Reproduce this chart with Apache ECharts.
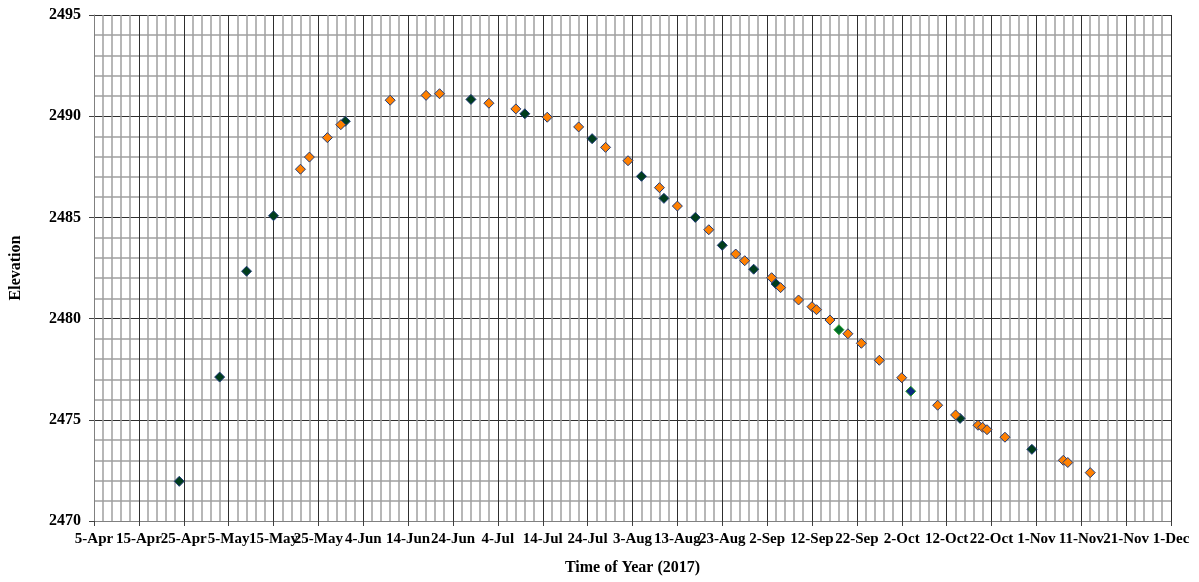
<!DOCTYPE html>
<html>
<head>
<meta charset="utf-8">
<script src="https://cdn.jsdelivr.net/npm/echarts@6/dist/echarts.min.js"></script>
<style>
html,body{margin:0;padding:0;background:#fff;}
#chart{width:1199px;height:582px;}
</style>
</head>
<body>
<div id="chart"></div>
<script>
// ---- data (year 2017) ----
const orangeDates = ['2017-05-21','2017-05-23','2017-05-27','2017-05-30','2017-06-10','2017-06-18','2017-06-21',
  '2017-07-02','2017-07-08','2017-07-15','2017-07-22','2017-07-28','2017-08-02','2017-08-09','2017-08-13',
  '2017-08-20','2017-08-26','2017-08-28','2017-09-03','2017-09-05','2017-09-09','2017-09-12','2017-09-13',
  '2017-09-16','2017-09-20','2017-09-23','2017-09-27','2017-10-02','2017-10-10','2017-10-14','2017-10-19',
  '2017-10-20','2017-10-21','2017-10-25','2017-11-07','2017-11-08','2017-11-13'];
const orangeValues = [2487.38,2487.98,2488.94,2489.58,2490.79,2491.03,2491.11,
  2490.64,2490.36,2489.95,2489.47,2488.46,2487.80,2486.47,2485.56,
  2484.39,2483.19,2482.86,2482.02,2481.53,2480.92,2480.59,2480.44,
  2479.93,2479.25,2478.78,2477.94,2477.08,2475.72,2475.24,2474.73,
  2474.63,2474.51,2474.14,2473.00,2472.89,2472.39];

const greenDates = ['2017-04-24','2017-05-03','2017-05-09','2017-05-15','2017-05-31','2017-06-28','2017-07-10',
  '2017-07-25','2017-08-05','2017-08-10','2017-08-17','2017-08-23','2017-08-30','2017-09-04','2017-10-15','2017-10-31'];
const greenValues = [2471.96,2477.11,2482.34,2485.08,2489.75,2490.83,2490.12,
  2488.89,2487.03,2485.94,2485.00,2483.62,2482.44,2481.71,2475.07,2473.54];

const brightGreenDates = ['2017-09-18'];
const brightGreenValues = [2479.45];
const blueDates = ['2017-10-04'];
const blueValues = [2476.41];

const xMinDate = '2017-04-05';
const xMaxDate = '2017-12-01';
const yMin = 2470, yMax = 2495;
const monthNames = ['Jan','Feb','Mar','Apr','May','Jun','Jul','Aug','Sep','Oct','Nov','Dec'];

// ---- helpers ----
const EPOCH = Date.UTC(1899, 11, 30);
function toSerial(s){ const p = s.split('-').map(Number); return Math.round((Date.UTC(p[0], p[1]-1, p[2]) - EPOCH)/86400000); }
function fromSerial(n){ const d = new Date(EPOCH + n*86400000); return d.getUTCDate() + '-' + monthNames[d.getUTCMonth()]; }
function pairs(dates, vals){ return dates.map((d,i)=>[toSerial(d), vals[i]]); }

const FONT = "'Liberation Serif','Times New Roman',serif";

const chart = echarts.init(document.getElementById('chart'));
chart.setOption({
  animation: false,
  backgroundColor: '#ffffff',
  grid: { left: 94, right: 28, top: 15, bottom: 61, containLabel: false },
  xAxis: {
    type: 'value',
    min: toSerial(xMinDate), max: toSerial(xMaxDate), interval: 10,
    name: 'Time of Year (2017)', nameLocation: 'middle', nameGap: 39,
    nameTextStyle: { fontFamily: FONT, fontWeight: 'bold', fontSize: 16, color: '#000' },
    axisLine: { show: true, lineStyle: { color: '#808080', width: 1 } },
    axisTick: { show: true, inside: false, length: 5, lineStyle: { color: '#404040' } },
    minorTick: { show: false, splitNumber: 5 },
    axisLabel: { formatter: v => fromSerial(v), fontFamily: FONT, fontWeight: 'bold', fontSize: 15, color: '#000', margin: 11, showMinLabel: true, showMaxLabel: true, hideOverlap: false, interval: 0 },
    splitLine: { show: true, lineStyle: { color: '#2e2e2e', width: 1 } },
    minorSplitLine: { show: true, lineStyle: { color: '#a0a0a0', width: 1.5 } }
  },
  yAxis: {
    type: 'value',
    min: yMin, max: yMax, interval: 5,
    name: 'Elevation', nameLocation: 'middle', nameGap: 70, nameRotate: 90,
    nameTextStyle: { fontFamily: FONT, fontWeight: 'bold', fontSize: 16, color: '#000' },
    axisLine: { show: true, lineStyle: { color: '#808080', width: 1 } },
    axisTick: { show: true, inside: false, length: 5, lineStyle: { color: '#404040' } },
    minorTick: { show: false, splitNumber: 5 },
    axisLabel: { formatter: v => String(v), fontFamily: FONT, fontWeight: 'bold', fontSize: 16, color: '#000', margin: 13 },
    splitLine: { show: true, lineStyle: { color: '#2e2e2e', width: 1 } },
    minorSplitLine: { show: true, lineStyle: { color: '#a0a0a0', width: 1.5 } }
  },
  series: [
    { type: 'scatter', name: 'Green', symbol: 'diamond', symbolSize: 10,
      itemStyle: { color: '#003d1c', borderColor: '#1f3a78', borderWidth: 1, opacity: 1 },
      data: pairs(greenDates, greenValues) },
    { type: 'scatter', name: 'Bright green', symbol: 'diamond', symbolSize: 10,
      itemStyle: { color: '#006b2a', borderColor: '#2aa02a', borderWidth: 1, opacity: 1 },
      data: pairs(brightGreenDates, brightGreenValues) },
    { type: 'scatter', name: 'Blue', symbol: 'diamond', symbolSize: 10,
      itemStyle: { color: '#0a2a80', borderColor: '#22a022', borderWidth: 1, opacity: 1 },
      data: pairs(blueDates, blueValues) },
    { type: 'scatter', name: 'Orange', symbol: 'diamond', symbolSize: 10,
      itemStyle: { color: '#ff8000', borderColor: '#1f3a78', borderWidth: 1, opacity: 1 },
      data: pairs(orangeDates, orangeValues) }
  ]
});
</script>
</body>
</html>
